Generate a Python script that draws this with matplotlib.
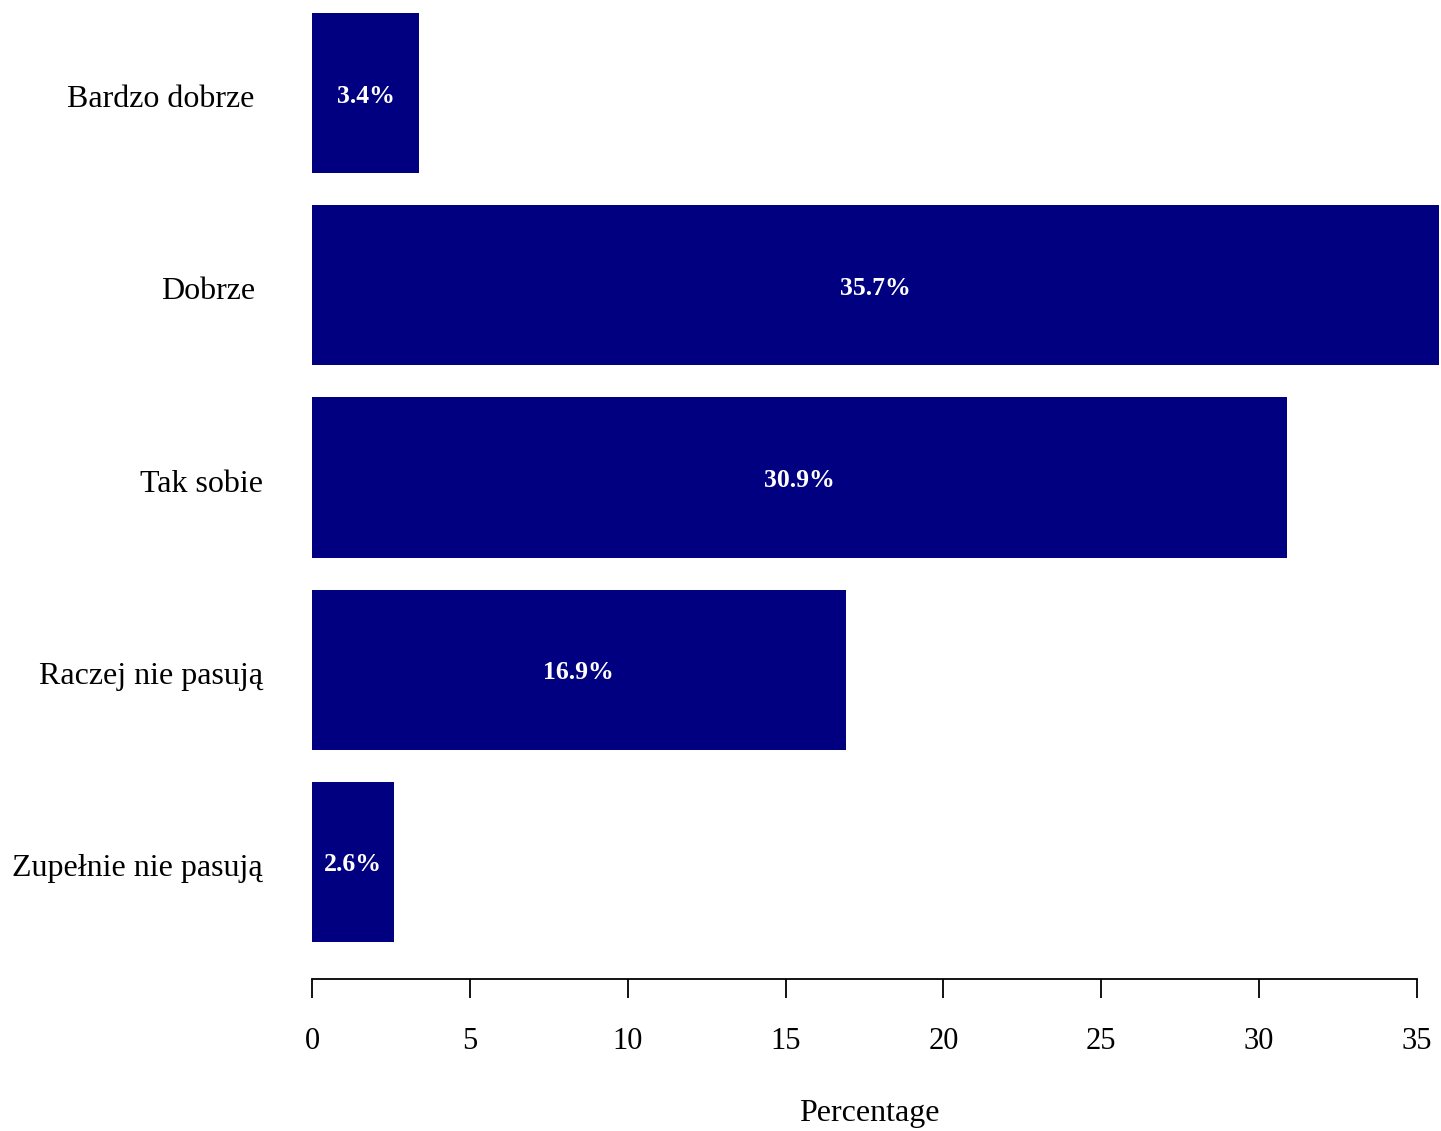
import matplotlib
matplotlib.use("Agg")
import matplotlib.pyplot as plt
import matplotlib.transforms as mtransforms
import numpy as np

categories = ["Bardzo dobrze", "Dobrze", "Tak sobie", "Raczej nie pasują", "Zupełnie nie pasują"]
values = [3.4, 35.7, 30.9, 16.9, 2.6]
value_labels = ["3.4%", "35.7%", "30.9%", "16.9%", "2.6%"]
xticks = [0, 5, 10, 15, 20, 25, 30, 35]

plt.rcParams['font.family'] = ['Liberation Serif', 'DejaVu Serif']

W, H = 1441, 1131
fig = plt.figure(figsize=(W / 100, H / 100), dpi=100)
ax = fig.add_axes([267 / W, 152 / H, 1217 / W, 1003 / H])

n = len(categories)
ypos = (np.arange(n)[::-1]) * 1.2 + 0.7
ax.barh(ypos, values, height=1.0, color="#000080", edgecolor="none")

down = mtransforms.ScaledTranslation(0, -3 / 100, fig.dpi_scale_trans)
for y, v, lab in zip(ypos, values, value_labels):
    ax.text(v / 2, y, lab, ha="center", va="center", color="white",
            fontsize=18.5, fontweight="bold", transform=ax.transData + down)

ax.set_xlim(-1.428, 37.128)
ax.set_ylim(-0.032, 6.232)

for s in ["left", "top", "right"]:
    ax.spines[s].set_visible(False)
ax.spines["bottom"].set_bounds(0, 35)
ax.spines["bottom"].set_linewidth(1.3)

ax.set_xticks(xticks)
ax.set_xticklabels([str(t) for t in xticks], fontsize=22)
ax.tick_params(axis="x", direction="out", length=13.7, width=1.3, pad=21, colors="black")

ax.set_yticks(ypos)
ax.set_yticklabels(categories, fontsize=23)
ax.tick_params(axis="y", length=0, pad=3)
shift = mtransforms.ScaledTranslation(-8 / 100, 0, fig.dpi_scale_trans)
for i, lbl in enumerate(ax.get_yticklabels()):
    t = lbl.get_transform() + down
    if i < 2:
        t = t + shift
    lbl.set_transform(t)

fig.text(869.5 / W, 1 - 1113 / H, "Percentage", ha="center", va="center", fontsize=23)

fig.savefig("out.png", dpi=100)
